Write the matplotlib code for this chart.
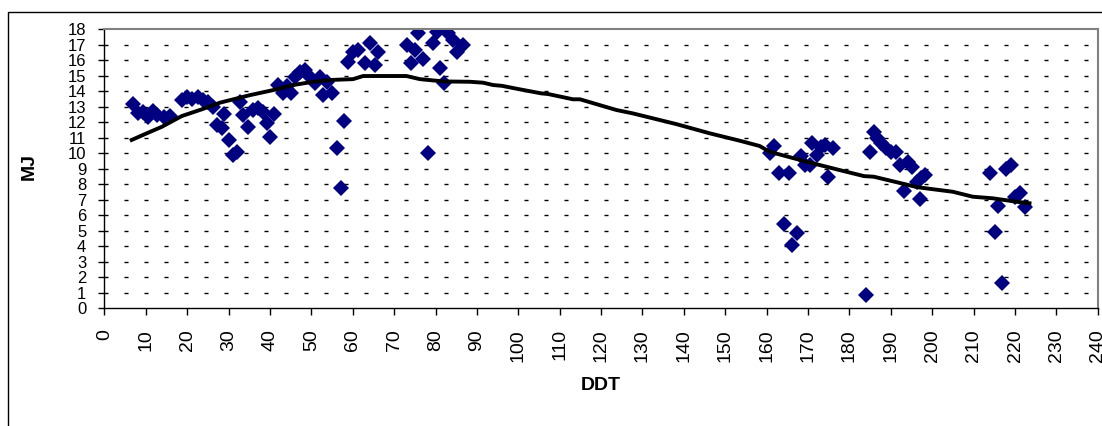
import matplotlib
matplotlib.use("Agg")
import matplotlib.pyplot as plt
from matplotlib.patches import Rectangle

plt.rcParams["font.family"] = ["Liberation Sans", "DejaVu Sans"]

# measured points (DDT, MJ)
ddt = [
    6.8, 8.2, 9.4, 10.6, 11.8, 12.6, 14.3, 15.9, 18.7, 19.9, 21.1, 22.7, 23.9,
    25.1, 26.3, 27.3, 28.3, 29.0, 30.0, 31.0, 32.0, 32.8, 33.6, 34.8, 36.0,
    37.2, 38.4, 39.2, 40.0, 41.0, 42.0, 43.2, 44.2, 45.0, 46.0, 47.3, 48.5,
    49.3, 50.9, 52.1, 52.9, 53.7, 54.9, 56.1, 57.1, 57.9, 58.9, 60.1, 61.3,
    62.9, 64.2, 65.4, 66.2, 73.0, 74.0, 75.0, 75.8, 76.9, 78.2, 79.4, 80.3,
    81.1, 82.0, 83.1, 84.3, 85.1, 86.7,
    160.7, 161.8, 163.1, 165.3, 164.2, 167.3, 166.2, 168.2, 169.2, 170.4,
    171.0, 172.1, 173.2, 174.2, 174.8, 176.0, 184.1, 185.0, 185.9, 186.7,
    187.7, 188.9, 190.1, 191.3, 192.1, 193.2, 194.1, 195.2, 196.2, 197.4,
    198.2, 197.1, 214.0, 215.1, 216.0, 216.9, 217.9, 219.1, 219.9, 221.3,
    222.3,
]
mj = [
    13.16, 12.56, 12.67, 12.35, 12.73, 12.45, 12.35, 12.39, 13.42, 13.6, 13.47,
    13.6, 13.42, 13.31, 12.99, 11.81, 11.6, 12.5, 10.84, 9.88, 10.09, 13.27,
    12.45, 11.66, 12.78, 12.89, 12.67, 11.96, 11.02, 12.5, 14.39, 13.85, 14.3,
    13.85, 14.9, 15.25, 15.36, 15.03, 14.5, 14.92, 13.74, 14.6, 13.85, 10.31,
    7.73, 12.1, 15.89, 16.53, 16.64, 15.79, 17.1, 15.68, 16.53, 16.97, 15.79,
    16.64, 17.76, 16.04, 10.03, 17.07, 17.82, 15.46, 14.54, 17.72, 17.29,
    16.53, 16.97,
    9.99, 10.48, 8.70, 8.70, 5.43, 4.83, 4.08, 9.81, 9.23, 9.23, 10.67, 9.88,
    10.41, 10.52, 8.44, 10.31, 0.86, 10.05, 11.34, 10.95, 10.63, 10.31, 10.09,
    10.05, 9.23, 7.58, 9.45, 9.12, 8.16, 8.38, 8.59, 7.04, 8.70, 4.94, 6.59,
    1.65, 8.98, 9.23, 7.19, 7.41, 6.51,
]

# trend line
trend_x = [
    6.6, 10.0, 13.9, 18.7, 23.5, 27.9, 35.2, 41.6, 45.6, 50.5, 55.0, 60.1,
    62.5, 73.0, 76.2, 82.0, 88.3, 91.5, 93.9, 96.0, 100.4, 105.6, 107.2,
    113.2, 114.9, 123.7, 127.7, 138.2, 146.2, 153.5, 158.3, 160.7, 169.6,
    177.6, 183.5, 185.9, 196.5, 205.0, 209.8, 214.6, 220.3, 223.5,
]
trend_y = [
    10.85, 11.25, 11.70, 12.39, 12.82, 13.25, 13.74, 14.11, 14.39, 14.6,
    14.72, 14.77, 14.97, 14.97, 14.77, 14.62, 14.6, 14.54, 14.39, 14.34,
    14.11, 13.85, 13.81, 13.47, 13.47, 12.78, 12.56, 11.87, 11.28, 10.80,
    10.46, 10.09, 9.45, 8.91, 8.52, 8.48, 7.80, 7.51, 7.19, 7.09, 6.87, 6.77,
]

x_ticks = list(range(0, 241, 10))
y_ticks = list(range(0, 19))

fig = plt.figure(figsize=(11.02, 4.26), dpi=100)
ax = fig.add_axes([0.0947, 0.2763, 0.9015, 0.6556])

# outer chart frame
fig.patches.append(Rectangle((8 / 1102, -0.2), 1.2, 0.2 + (426 - 12) / 426,
                             transform=fig.transFigure, fill=False,
                             edgecolor="black", linewidth=1.0))

for yv in y_ticks[1:-1]:
    ax.axhline(yv, color="black", linewidth=1.0, dashes=(2.9, 11.5), zorder=1)

ax.plot(ddt, mj, linestyle="none", marker="D", markersize=7.8,
        color="#000080", markeredgewidth=0, zorder=2)
ax.plot(trend_x, trend_y, color="black", linewidth=2.8, zorder=3)

ax.set_xlim(0, 240)
ax.set_ylim(0, 18)
ax.set_xticks(x_ticks)
ax.set_yticks(y_ticks)
ax.set_xticklabels([str(v) for v in x_ticks], rotation=90, fontsize=14)
ax.set_yticklabels([str(v) for v in y_ticks], fontsize=12,
                   family=["Liberation Sans Narrow", "Liberation Sans"])
ax.tick_params(axis="x", direction="out", length=5, width=1, pad=10)
ax.tick_params(axis="y", direction="out", length=4, width=1, pad=9)

for side in ["top", "right"]:
    ax.spines[side].set_color("#808080")
    ax.spines[side].set_linewidth(1.5)
for side in ["left", "bottom"]:
    ax.spines[side].set_color("black")
    ax.spines[side].set_linewidth(1.0)

fig.text(600.7 / 1102, 1 - 386 / 426, "DDT", fontsize=14, fontweight="bold",
         ha="center", va="center")
fig.text(29 / 1102, 1 - 166 / 426, "MJ", fontsize=14, fontweight="bold",
         ha="center", va="center", rotation=90)

fig.savefig("out.png", dpi=100)
